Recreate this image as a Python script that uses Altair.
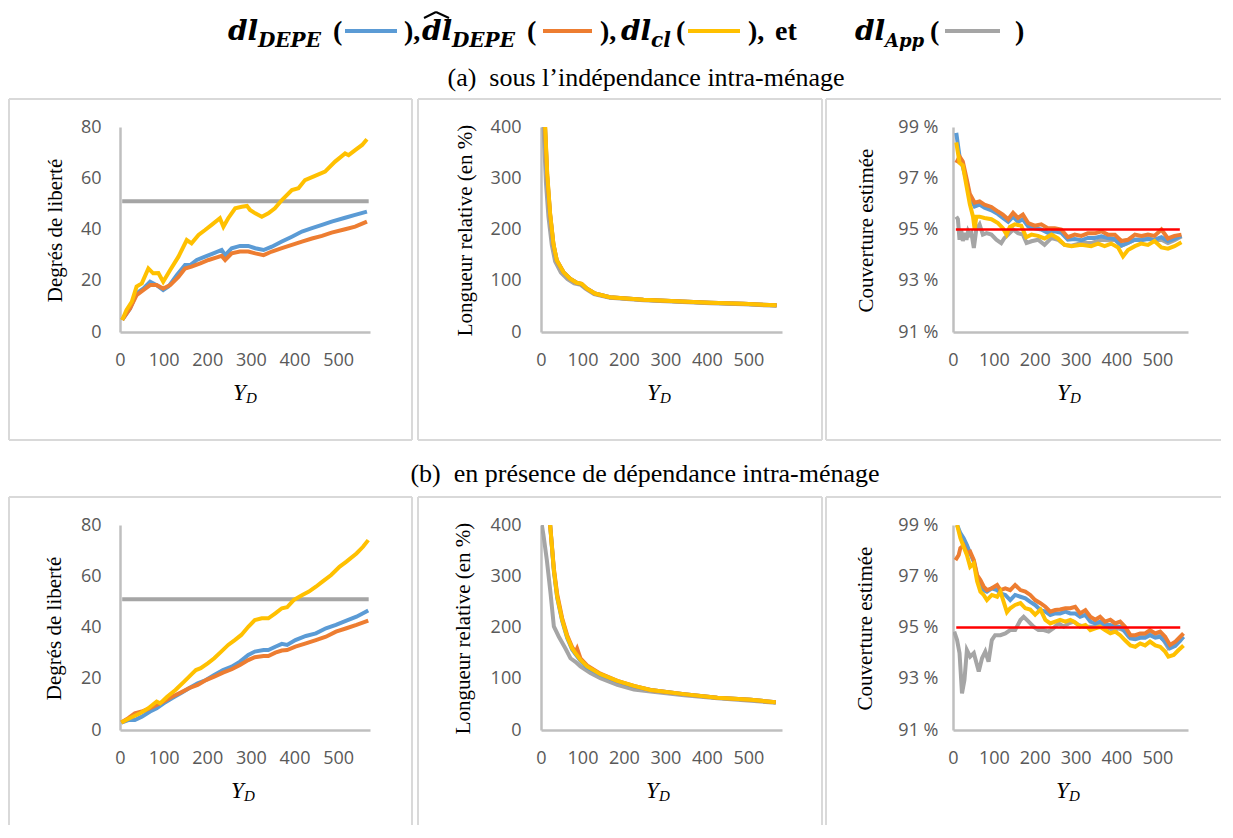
import altair as alt
import pandas as pd

# ---------------- data ----------------
X_TICKS = [0, 100, 200, 300, 400, 500]
DL_TICKS = [0, 20, 40, 60, 80]
LR_TICKS = [0, 100, 200, 300, 400]
COV_TICKS = [91, 93, 95, 97, 99]

# (a) top-left : degrés de liberté
a1_blue_x = [5,23,38,54,69,84,99,111,130,149,161,176,195,214,233,241,256,275,294,310,329,348,371,394,417,440,463,485,516,539,566]
a1_blue_y = [4.7,9.2,15.1,17.0,19.6,18.3,16.4,17.7,22.2,26.1,26.1,28.1,29.4,30.7,32.0,30.0,32.7,33.6,33.6,32.7,32.0,33.3,35.3,37.2,39.2,40.5,41.8,43.1,44.6,45.7,47.0]
a1_orange_x = [5,23,38,54,69,84,99,115,134,149,164,184,203,222,233,241,256,275,294,310,329,348,371,394,417,440,463,485,516,539,566]
a1_orange_y = [4.7,9.2,14.4,16.4,18.3,18.3,17.0,18.3,21.5,24.8,25.5,26.8,28.1,29.1,29.7,28.1,30.7,31.4,31.4,30.7,30.0,31.4,32.7,34.0,35.3,36.5,37.5,38.8,40.1,41.1,43.1]
a1_yellow_x = [5,15,27,38,50,65,76,88,99,115,134,153,164,180,195,210,229,237,248,264,279,291,298,310,325,340,355,371,394,409,424,447,470,493,516,524,539,555,566]
a1_yellow_y = [4.7,8.6,11.8,17.7,19.0,24.8,22.9,23.0,19.6,24.2,29.4,35.9,34.6,37.9,39.8,41.8,44.4,41.1,44.4,48.3,48.9,49.2,47.6,46.3,45.0,46.3,48.3,51.5,55.4,56.1,59.3,60.9,62.6,66.5,69.7,69.0,71.0,73.0,75.2]
a1_grey_x = [5, 570]
a1_grey_y = [51, 51]

# (a) top-middle : longueur relative
a2_grey_x = [6,12,18,26,34,48,64,80,96,108,128,166,247,327,408,488,568]
a2_grey_y = [400,290,225,170,138,116,103,95,92,84,74,67,62,59,56,54,51]
a2_x = [9,15,22,30,38,54,70,86,98,110,130,166,247,327,408,488,568]
a2_blue_y = [410,300,228,170,139,117,104,96,93,85,75,68,63,60,57,55,52]
a2_orange_y = [415,305,230,171,140,117,104,96,94,85,75,68,63,60,57,55,52]
a2_yellow_y = [420,309,231,172,140,117,104,96,94,85,75,68,63,60,57,55,52]

# (a) top-right : couverture estimée
a3_blue_x = [8,16,24,33,41,53,65,77,94,110,122,135,147,159,171,184,200,216,232,249,265,281,298,314,330,347,363,379,396,412,428,445,461,477,493,510,526,542,559]
a3_blue_y = [98.77,97.85,97.45,96.9,96.25,95.9,95.97,95.85,95.75,95.6,95.45,95.3,95.5,95.3,95.4,95.12,95.05,95.0,94.87,94.93,94.87,94.6,94.63,94.58,94.67,94.67,94.73,94.67,94.63,94.37,94.48,94.6,94.58,94.63,94.6,94.7,94.55,94.63,94.76]
a3_orange_x = a3_blue_x
a3_orange_y = [97.6,97.85,97.65,97.0,96.4,96.05,96.1,95.97,95.88,95.7,95.58,95.4,95.65,95.45,95.58,95.25,95.15,95.2,95.05,95.05,95.0,94.7,94.8,94.75,94.85,94.85,94.93,94.8,94.8,94.55,94.6,94.8,94.75,94.8,94.75,95.0,94.65,94.75,94.8]
a3_yellow_x = [8,16,24,33,41,49,53,57,65,77,94,110,122,131,139,151,167,179,192,208,224,241,257,273,290,314,338,355,371,387,404,416,428,445,460,477,493,510,526,542,559]
a3_yellow_y = [98.4,97.6,97.5,96.7,96.0,95.5,95.0,95.5,95.5,95.45,95.4,95.25,95.05,94.8,95.1,95.2,95.15,94.7,94.8,94.75,94.65,94.8,94.65,94.4,94.35,94.4,94.35,94.45,94.35,94.45,94.3,93.95,94.2,94.35,94.45,94.4,94.55,94.3,94.25,94.35,94.5]
a3_grey_x = [8,12,16,20,24,29,33,37,41,45,51,57,65,73,82,94,106,118,126,135,147,159,171,180,192,208,224,241,257,273,290,314,338,363,379,396,412,428,445,461,477,493,510,526,542,559]
a3_grey_y = [95.5,95.4,94.6,95.0,94.55,94.86,94.6,94.93,94.8,94.86,94.28,95.0,95.2,94.8,94.86,94.8,94.6,94.47,94.67,94.8,95.0,94.86,94.8,94.47,94.54,94.6,94.4,94.67,94.6,94.4,94.37,94.47,94.47,94.6,94.58,94.6,94.37,94.48,94.6,94.63,94.67,94.58,94.6,94.47,94.58,94.73]
a3_ref_x = [7, 555]
a3_ref_y = [95, 95]

# (b) bottom-left : degrés de liberté
b1_x = [3,19,34,50,69,84,100,119,139,158,178,197,216,236,256,275,294,309,329,340,356,371,383,402,426,449,472,495,519,542,569]
b1_blue_y = [2.9,3.9,3.9,5.2,7.2,8.5,10.4,12.4,14.3,16.3,18.2,19.5,21.5,23.4,24.7,26.7,29.3,30.6,31.2,31.2,32.5,33.6,33.2,35.1,36.7,37.7,39.7,41.0,42.7,44.2,46.6]
b1_orange_y = [2.9,4.6,6.5,7.2,8.5,9.8,11.1,13.0,14.6,16.3,17.6,19.5,20.8,22.4,23.7,25.4,27.3,28.4,28.9,28.9,30.2,31.0,31.2,32.5,33.8,35.1,36.4,38.4,39.7,41.0,42.7]
b1_yellow_x = [3,22,46,65,84,92,108,127,147,166,174,185,201,216,232,248,263,278,294,309,325,340,356,371,383,398,418,433,449,464,484,503,519,542,557,569]
b1_yellow_y = [2.9,4.6,6.5,8.5,11.1,10.4,13.0,15.6,18.9,22.1,23.4,24.1,26.0,28.0,30.6,33.2,35.1,37.1,40.3,42.9,43.6,43.6,45.5,47.5,47.9,50.7,52.7,54.0,55.9,57.9,60.5,63.7,65.7,68.9,71.5,74.1]
b1_grey_x = [5, 570]
b1_grey_y = [51, 51]

# (b) bottom-middle : longueur relative
b2_grey_x = [2,6,14,23,31,43,59,71,83,95,119,143,184,224,264,345,425,506,566]
b2_grey_y = [400,380,332,267,202,182,159,140,133,124,111,101,88,79,75,68,62,57,53]
b2_x = [20,31,39,51,63,75,83,95,111,143,184,224,264,345,425,506,566]
b2_blue_y = [420,310,258,213,180,157,148,135,122,108,95,85,78,70,63,59,54]
b2_yellow_y = [420,312,260,215,182,159,150,137,124,109,96,86,78,70,63,59,54]
b2_orange_x = [20,31,39,51,63,75,83,87,95,111,143,184,224,264,345,425,506,566]
b2_orange_y = [420,315,265,218,185,162,152,159,140,126,110,96,86,78,70,63,59,54]

# (b) bottom-right : couverture estimée
b3_blue_x = [10,18,26,34,42,51,59,67,75,83,95,108,116,128,140,152,165,177,189,201,214,226,238,250,262,275,287,299,311,324,336,348,360,372,385,397,409,421,434,446,458,470,482,495,507,519,531,544,556,564]
b3_blue_y = [99.0,98.68,98.48,98.22,97.9,97.57,96.98,96.66,96.46,96.4,96.53,96.46,96.33,96.27,96.07,96.27,96.2,96.14,96.0,95.88,95.68,95.62,95.49,95.55,95.55,95.62,95.55,95.55,95.42,95.49,95.23,95.16,95.23,95.1,95.1,95.03,95.03,94.84,94.57,94.54,94.6,94.6,94.7,94.6,94.64,94.45,94.19,94.28,94.49,94.64]
b3_orange_x = [6,14,18,26,34,42,51,59,67,75,83,95,108,116,128,140,152,165,177,189,201,214,226,238,250,262,275,287,299,311,324,336,348,360,372,385,397,409,421,434,446,458,470,482,495,507,519,531,544,556,564]
b3_orange_y = [97.63,97.83,98.1,98.2,97.9,97.96,97.63,97.05,96.85,96.6,96.46,96.53,96.66,96.46,96.53,96.46,96.66,96.46,96.4,96.27,96.07,95.95,95.81,95.62,95.68,95.7,95.75,95.75,95.81,95.55,95.68,95.42,95.3,95.42,95.23,95.3,95.16,95.23,95.03,94.7,94.7,94.77,94.77,94.9,94.77,94.84,94.64,94.32,94.45,94.64,94.77]
b3_yellow_x = [10,18,26,34,42,51,59,67,75,83,95,108,116,124,132,140,152,165,177,189,201,214,226,238,250,262,275,287,299,311,324,336,348,360,372,385,397,409,421,434,446,458,470,482,495,507,519,527,540,552,564]
b3_yellow_y = [99.0,98.5,98.15,97.83,97.37,97.5,96.8,96.4,96.27,96.07,96.27,96.2,96.4,96.0,95.6,95.75,95.88,95.95,95.75,95.7,95.5,95.7,95.3,95.16,95.23,95.3,95.23,95.3,95.2,95.03,95.1,94.9,94.97,95.03,94.9,94.77,94.84,94.7,94.5,94.3,94.25,94.38,94.3,94.45,94.3,94.25,94.06,93.86,93.93,94.12,94.3]
b3_grey_x = [3,10,16,22,28,34,42,51,63,71,79,87,95,103,116,128,140,152,165,173,185,197,209,222,234,246,258,271,283,295,307,319,332,344,356,368,381,393,405,417,430,442,454,466,478,491,503,515,527,540,552,564]
b3_grey_y = [94.84,94.51,94.0,92.43,92.95,94.12,93.86,94.0,93.28,93.8,94.06,93.67,94.51,94.7,94.7,94.77,94.9,94.9,95.29,95.42,95.23,95.03,94.9,94.9,94.84,94.97,95.16,95.03,95.16,95.23,95.1,95.03,95.03,95.03,95.1,95.1,94.97,94.9,94.97,94.9,94.64,94.58,94.64,94.7,94.77,94.7,94.7,94.51,94.19,94.32,94.51,94.64]
b3_ref_x = [8, 556]
b3_ref_y = [95, 95]

# ---------------- styling ----------------
COL = {"App": "#A5A5A5", "DEPE": "#5B9BD5", "DEPE_hat": "#ED7D31", "cl": "#FFC000", "ref": "#FF0000"}
ORDER = ["App", "DEPE", "DEPE_hat", "cl", "ref"]
AX_GREY = "#BFBFBF"
BOX_GREY = "#D9D9D9"
LBL = "#595959"
ONE = pd.DataFrame({"k": [0]})


def frame(series):
    rows = []
    for name, (xs, ys) in series.items():
        for xv, yv in zip(xs, ys, strict=True):
            rows.append({"x": xv, "y": yv, "s": name})
    return pd.DataFrame(rows)


def rule(x, x2, y, y2, color, w):
    return alt.Chart(ONE).mark_rule(color=color, strokeWidth=w).encode(
        x=alt.value(x), x2=alt.value(x2), y=alt.value(y), y2=alt.value(y2))


def txt(t, x, y, size, font="DejaVu Serif", style="normal", weight="normal",
        align="left", color="black"):
    return alt.Chart(ONE).mark_text(
        text=t, font=font, fontSize=size, fontStyle=style, fontWeight=weight,
        align=align, baseline="alphabetic", color=color).encode(
        x=alt.value(x), y=alt.value(y))


def panel(series, ydom, yticks, ytitle, g, pct=False):
    H = 205
    W = g["w"]
    df = frame(series)
    xenc = alt.X("x:Q", scale=alt.Scale(domain=[0, g["xmax"]], nice=False, zero=False),
                 axis=alt.Axis(values=X_TICKS, title=None, grid=False, ticks=False, tickSize=0,
                               labelFlush=False, labelOverlap=False, labelPadding=19,
                               labelFont="Open Sans", labelFontSize=18, labelColor=LBL,
                               domainColor=AX_GREY, domainWidth=2.5))
    yaxis = dict(values=yticks, title=ytitle, grid=False, ticks=False, tickSize=0,
                 labelOverlap=False, labelPadding=g["lp"], labelFlush=False,
                 labelFont="Open Sans", labelFontSize=18, labelColor=LBL,
                 domainColor=AX_GREY, domainWidth=2.5,
                 titleFont="Liberation Serif", titleFontSize=21, titleFontWeight="normal",
                 titleColor="black", titleAngle=270, titleX=g["tx"], titleY=103,
                 titleAlign="center", titleBaseline="middle")
    if pct:
        yaxis["labelExpr"] = "datum.value + ' %'"
    yenc = alt.Y("y:Q", scale=alt.Scale(domain=ydom, nice=False, zero=False),
                 axis=alt.Axis(**yaxis))
    layers = []
    L, R, T, B = g["L"], g["R"], g["T"], g["B"]
    rx = R if R is not None else g["edge"]
    layers.append(rule(L, rx, T, T, BOX_GREY, 2))
    layers.append(rule(L, L, T, B, BOX_GREY, 2))
    if R is not None:
        layers.append(rule(R, R, T, B, BOX_GREY, 2))
    if g["bottom"]:
        layers.append(rule(L, rx, B, B, BOX_GREY, 2))
    for name in ORDER:
        if name not in series:
            continue
        w = 2.5 if name == "ref" else 4
        layers.append(alt.Chart(df).transform_filter(alt.datum.s == name)
                      .mark_line(color=COL[name], strokeWidth=w, clip=True)
                      .encode(x=xenc, y=yenc))
    layers.append(txt("Y", g["yd"], 273, 23, font="Liberation Serif", style="italic"))
    layers.append(txt("D", g["yd"] + 13, 276, 15, font="Liberation Serif", style="italic"))
    return alt.layer(*layers).properties(width=W, height=H)


# geometry for each panel (pixels relative to plot origin)
G1a = dict(w=250, xmax=573, L=-111, R=292, T=-28, B=313, bottom=True, lp=19, tx=-65, yd=113)
G2a = dict(w=241, xmax=581, L=-123, R=281, T=-28, B=313, bottom=True, lp=20, tx=-76, yd=106)
G3a = dict(w=235, xmax=575, L=-127, R=None, edge=268, T=-28, B=313, bottom=True, lp=15, tx=-87, yd=104)
G1b = dict(w=250, xmax=573, L=-111, R=292, T=-28, B=300, bottom=False, lp=19, tx=-66, yd=111)
G2b = dict(w=241, xmax=581, L=-123, R=281, T=-28, B=300, bottom=False, lp=20, tx=-78, yd=105)
G3b = dict(w=235, xmax=575, L=-127, R=None, edge=268, T=-28, B=300, bottom=False, lp=15, tx=-88, yd=103)

T_DL = "Degrés de liberté"
T_LR = "Longueur relative (en %)"
T_CV = "Couverture estimée"

p1a = panel({"App": (a1_grey_x, a1_grey_y), "DEPE": (a1_blue_x, a1_blue_y),
             "DEPE_hat": (a1_orange_x, a1_orange_y), "cl": (a1_yellow_x, a1_yellow_y)},
            [0, 80], DL_TICKS, T_DL, G1a)
p2a = panel({"App": (a2_grey_x, a2_grey_y), "DEPE": (a2_x, a2_blue_y),
             "DEPE_hat": (a2_x, a2_orange_y), "cl": (a2_x, a2_yellow_y)},
            [0, 400], LR_TICKS, T_LR, G2a)
p3a = panel({"App": (a3_grey_x, a3_grey_y), "DEPE": (a3_blue_x, a3_blue_y),
             "DEPE_hat": (a3_orange_x, a3_orange_y), "cl": (a3_yellow_x, a3_yellow_y),
             "ref": (a3_ref_x, a3_ref_y)},
            [91, 99], COV_TICKS, T_CV, G3a, pct=True)
p1b = panel({"App": (b1_grey_x, b1_grey_y), "DEPE": (b1_x, b1_blue_y),
             "DEPE_hat": (b1_x, b1_orange_y), "cl": (b1_yellow_x, b1_yellow_y)},
            [0, 80], DL_TICKS, T_DL, G1b)
p2b = panel({"App": (b2_grey_x, b2_grey_y), "DEPE": (b2_x, b2_blue_y),
             "DEPE_hat": (b2_orange_x, b2_orange_y), "cl": (b2_x, b2_yellow_y)},
            [0, 400], LR_TICKS, T_LR, G2b)
p3b = panel({"App": (b3_grey_x, b3_grey_y), "DEPE": (b3_blue_x, b3_blue_y),
             "DEPE_hat": (b3_orange_x, b3_orange_y), "cl": (b3_yellow_x, b3_yellow_y),
             "ref": (b3_ref_x, b3_ref_y)},
            [91, 99], COV_TICKS, T_CV, G3b, pct=True)

# ---------------- header (title + subtitle a), origin aligned with first plot ----------------
MB, SB = 32, 39
BI = dict(style="italic", weight="bold")
PB = dict(font="Liberation Serif", weight="bold")
hdr = [
    txt("dl", 108, MB, 28, **BI), txt("DEPE", 138, SB, 20, **BI),
    txt("(", 213, MB, 28, **PB),
    rule(225, 277, 23, 23, COL["DEPE"], 4),
    txt("),", 284, MB, 28, **PB),
    txt("dl", 302, MB, 28, **BI),
    rule(304, 316, 10, 4, "black", 2), rule(316, 329, 4, 10, "black", 2),
    txt("DEPE", 332, SB, 20, **BI),
    txt("(", 407, MB, 28, **PB),
    rule(423, 472, 23, 23, COL["DEPE_hat"], 4),
    txt("),", 480, MB, 28, **PB),
    txt("dl", 501, MB, 28, **BI), txt("cl", 531, SB, 20, **BI),
    txt("(", 556, MB, 28, **PB),
    rule(568, 620, 23, 23, COL["cl"], 4),
    txt("),", 628, MB, 28, **PB),
    txt("et", 655, MB, 28, **PB),
    txt("dl", 735, MB, 28, **BI), txt("App", 765, SB, 18, **BI),
    txt("(", 810, MB, 28, **PB),
    rule(825, 880, 23, 23, COL["App"], 4),
    txt(")", 895, MB, 28, **PB),
    txt("(a)\u00a0\u00a0sous l\u2019indépendance intra-ménage", 526, 78, 26,
        font="Liberation Serif", align="center"),
]
HDR_H = 119
SUB_H = 193
header = alt.layer(*hdr).properties(width=250, height=HDR_H)
sub_b = alt.layer(
    txt("(b)\u00a0\u00a0en présence de dépendance intra-ménage", 525, 150, 26,
        font="Liberation Serif", align="center")
).properties(width=250, height=SUB_H)


def blank(w, h):
    return txt("", 10, h / 2, 10).properties(width=w, height=h)


cells = [header, blank(241, HDR_H), blank(235, HDR_H),
         p1a, p2a, p3a,
         sub_b, blank(241, SUB_H), blank(235, SUB_H),
         p1b, p2b, p3b]

chart = alt.concat(*cells, columns=3, spacing={"row": 0, "column": 171},
                   bounds="flush", padding=0,
                   background="white").configure_view(stroke=None)

chart.save("out.html", embed_options={"renderer": "svg", "actions": False})
